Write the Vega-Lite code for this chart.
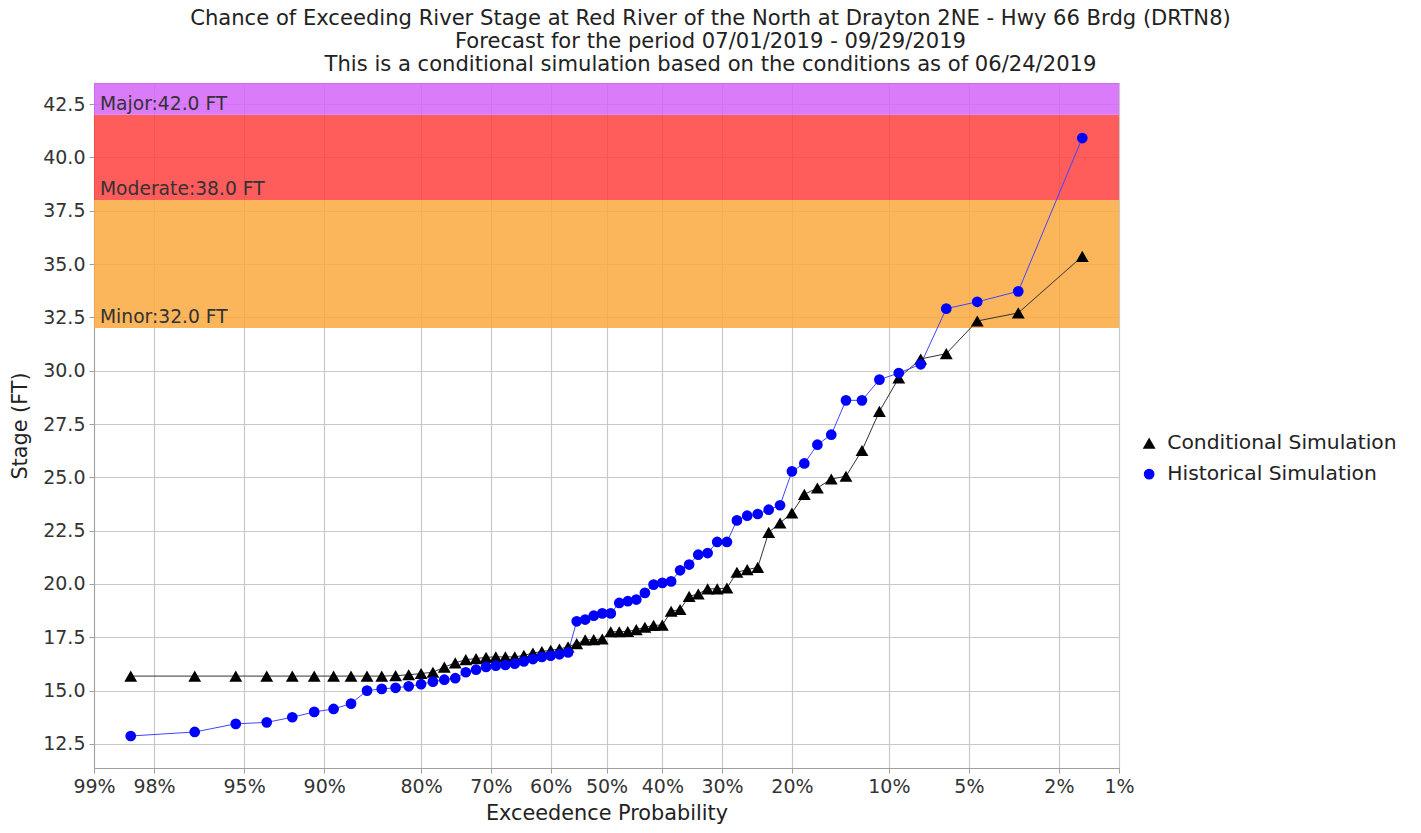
{
  "$schema": "https://vega.github.io/schema/vega-lite/v6.json",
  "autosize": "none",
  "width": 1025,
  "height": 685,
  "padding": {"left": 94, "top": 83, "right": 302, "bottom": 65},
  "background": "white",
  "config": {
    "font": "DejaVu Sans",
    "view": {"stroke": "#a0a0a0", "strokeWidth": 1},
    "axis": {
      "gridColor": "#c8c8c8",
      "gridWidth": 1.2,
      "domainColor": "#a0a0a0",
      "tickColor": "#a0a0a0",
      "tickSize": 5,
      "labelColor": "#333333",
      "labelFontSize": 19,
      "titleFontSize": 20.8,
      "titleFontWeight": "normal",
      "titleColor": "#222222"
    },
    "legend": {
      "orient": "none",
      "legendX": 1045,
      "legendY": 350,
      "labelFontSize": 20.3,
      "labelColor": "#222222",
      "labelOffset": 8,
      "labelLimit": 400,
      "rowPadding": 10,
      "padding": 0,
      "symbolStrokeWidth": 0
    }
  },
  "title": {
    "text": [
      "Chance of Exceeding River Stage at Red River of the North at Drayton 2NE - Hwy 66 Brdg (DRTN8)",
      "Forecast for the period 07/01/2019 - 09/29/2019",
      "This is a conditional simulation based on the conditions as of 06/24/2019"
    ],
    "fontSize": 21.1,
    "fontWeight": "normal",
    "color": "#222222",
    "anchor": "middle",
    "dx": 104,
    "offset": 8,
    "lineHeight": 23
  },
  "datasets": {
    "bands": [
      {"level": "Minor", "lo": 32, "hi": 38, "label": "Minor:32.0 FT", "left": 99, "right": 1},
      {"level": "Moderate", "lo": 38, "hi": 42, "label": "Moderate:38.0 FT", "left": 99, "right": 1},
      {"level": "Major", "lo": 42, "hi": 43.49, "label": "Major:42.0 FT", "left": 99, "right": 1}
    ],
    "sim": [
      {"exceed": 98.46, "series": "Conditional Simulation", "stage": 15.68},
      {"exceed": 96.92, "series": "Conditional Simulation", "stage": 15.68},
      {"exceed": 95.38, "series": "Conditional Simulation", "stage": 15.68},
      {"exceed": 93.85, "series": "Conditional Simulation", "stage": 15.68},
      {"exceed": 92.31, "series": "Conditional Simulation", "stage": 15.68},
      {"exceed": 90.77, "series": "Conditional Simulation", "stage": 15.68},
      {"exceed": 89.23, "series": "Conditional Simulation", "stage": 15.68},
      {"exceed": 87.69, "series": "Conditional Simulation", "stage": 15.68},
      {"exceed": 86.15, "series": "Conditional Simulation", "stage": 15.68},
      {"exceed": 84.62, "series": "Conditional Simulation", "stage": 15.68},
      {"exceed": 83.08, "series": "Conditional Simulation", "stage": 15.70},
      {"exceed": 81.54, "series": "Conditional Simulation", "stage": 15.74},
      {"exceed": 80.00, "series": "Conditional Simulation", "stage": 15.80},
      {"exceed": 78.46, "series": "Conditional Simulation", "stage": 15.86},
      {"exceed": 76.92, "series": "Conditional Simulation", "stage": 16.10},
      {"exceed": 75.38, "series": "Conditional Simulation", "stage": 16.30},
      {"exceed": 73.85, "series": "Conditional Simulation", "stage": 16.45},
      {"exceed": 72.31, "series": "Conditional Simulation", "stage": 16.50},
      {"exceed": 70.77, "series": "Conditional Simulation", "stage": 16.56},
      {"exceed": 69.23, "series": "Conditional Simulation", "stage": 16.58},
      {"exceed": 67.69, "series": "Conditional Simulation", "stage": 16.58},
      {"exceed": 66.15, "series": "Conditional Simulation", "stage": 16.58},
      {"exceed": 64.62, "series": "Conditional Simulation", "stage": 16.65},
      {"exceed": 63.08, "series": "Conditional Simulation", "stage": 16.76},
      {"exceed": 61.54, "series": "Conditional Simulation", "stage": 16.83},
      {"exceed": 60.00, "series": "Conditional Simulation", "stage": 16.89},
      {"exceed": 58.46, "series": "Conditional Simulation", "stage": 16.95},
      {"exceed": 56.92, "series": "Conditional Simulation", "stage": 17.05},
      {"exceed": 55.38, "series": "Conditional Simulation", "stage": 17.20},
      {"exceed": 53.85, "series": "Conditional Simulation", "stage": 17.38},
      {"exceed": 52.31, "series": "Conditional Simulation", "stage": 17.39},
      {"exceed": 50.77, "series": "Conditional Simulation", "stage": 17.42},
      {"exceed": 49.23, "series": "Conditional Simulation", "stage": 17.76},
      {"exceed": 47.69, "series": "Conditional Simulation", "stage": 17.76},
      {"exceed": 46.15, "series": "Conditional Simulation", "stage": 17.77},
      {"exceed": 44.62, "series": "Conditional Simulation", "stage": 17.86},
      {"exceed": 43.08, "series": "Conditional Simulation", "stage": 17.97},
      {"exceed": 41.54, "series": "Conditional Simulation", "stage": 18.06},
      {"exceed": 40.00, "series": "Conditional Simulation", "stage": 18.07},
      {"exceed": 38.46, "series": "Conditional Simulation", "stage": 18.72},
      {"exceed": 36.92, "series": "Conditional Simulation", "stage": 18.80},
      {"exceed": 35.38, "series": "Conditional Simulation", "stage": 19.42},
      {"exceed": 33.85, "series": "Conditional Simulation", "stage": 19.53},
      {"exceed": 32.31, "series": "Conditional Simulation", "stage": 19.77},
      {"exceed": 30.77, "series": "Conditional Simulation", "stage": 19.77},
      {"exceed": 29.23, "series": "Conditional Simulation", "stage": 19.81},
      {"exceed": 27.69, "series": "Conditional Simulation", "stage": 20.55},
      {"exceed": 26.15, "series": "Conditional Simulation", "stage": 20.67},
      {"exceed": 24.62, "series": "Conditional Simulation", "stage": 20.78},
      {"exceed": 23.08, "series": "Conditional Simulation", "stage": 22.42},
      {"exceed": 21.54, "series": "Conditional Simulation", "stage": 22.86},
      {"exceed": 20.00, "series": "Conditional Simulation", "stage": 23.33},
      {"exceed": 18.46, "series": "Conditional Simulation", "stage": 24.20},
      {"exceed": 16.92, "series": "Conditional Simulation", "stage": 24.50},
      {"exceed": 15.38, "series": "Conditional Simulation", "stage": 24.92},
      {"exceed": 13.85, "series": "Conditional Simulation", "stage": 25.05},
      {"exceed": 12.31, "series": "Conditional Simulation", "stage": 26.26},
      {"exceed": 10.77, "series": "Conditional Simulation", "stage": 28.09},
      {"exceed": 9.23, "series": "Conditional Simulation", "stage": 29.66},
      {"exceed": 7.69, "series": "Conditional Simulation", "stage": 30.55},
      {"exceed": 6.15, "series": "Conditional Simulation", "stage": 30.80},
      {"exceed": 4.62, "series": "Conditional Simulation", "stage": 32.33},
      {"exceed": 3.08, "series": "Conditional Simulation", "stage": 32.71},
      {"exceed": 1.54, "series": "Conditional Simulation", "stage": 35.36},
      {"exceed": 98.46, "series": "Historical Simulation", "stage": 12.87},
      {"exceed": 96.92, "series": "Historical Simulation", "stage": 13.06},
      {"exceed": 95.38, "series": "Historical Simulation", "stage": 13.44},
      {"exceed": 93.85, "series": "Historical Simulation", "stage": 13.51},
      {"exceed": 92.31, "series": "Historical Simulation", "stage": 13.75},
      {"exceed": 90.77, "series": "Historical Simulation", "stage": 14.00},
      {"exceed": 89.23, "series": "Historical Simulation", "stage": 14.14},
      {"exceed": 87.69, "series": "Historical Simulation", "stage": 14.39},
      {"exceed": 86.15, "series": "Historical Simulation", "stage": 15.00},
      {"exceed": 84.62, "series": "Historical Simulation", "stage": 15.08},
      {"exceed": 83.08, "series": "Historical Simulation", "stage": 15.13},
      {"exceed": 81.54, "series": "Historical Simulation", "stage": 15.20},
      {"exceed": 80.00, "series": "Historical Simulation", "stage": 15.30},
      {"exceed": 78.46, "series": "Historical Simulation", "stage": 15.42},
      {"exceed": 76.92, "series": "Historical Simulation", "stage": 15.51},
      {"exceed": 75.38, "series": "Historical Simulation", "stage": 15.58},
      {"exceed": 73.85, "series": "Historical Simulation", "stage": 15.86},
      {"exceed": 72.31, "series": "Historical Simulation", "stage": 15.98},
      {"exceed": 70.77, "series": "Historical Simulation", "stage": 16.11},
      {"exceed": 69.23, "series": "Historical Simulation", "stage": 16.17},
      {"exceed": 67.69, "series": "Historical Simulation", "stage": 16.20},
      {"exceed": 66.15, "series": "Historical Simulation", "stage": 16.26},
      {"exceed": 64.62, "series": "Historical Simulation", "stage": 16.37},
      {"exceed": 63.08, "series": "Historical Simulation", "stage": 16.48},
      {"exceed": 61.54, "series": "Historical Simulation", "stage": 16.58},
      {"exceed": 60.00, "series": "Historical Simulation", "stage": 16.64},
      {"exceed": 58.46, "series": "Historical Simulation", "stage": 16.70},
      {"exceed": 56.92, "series": "Historical Simulation", "stage": 16.79},
      {"exceed": 55.38, "series": "Historical Simulation", "stage": 18.25},
      {"exceed": 53.85, "series": "Historical Simulation", "stage": 18.33},
      {"exceed": 52.31, "series": "Historical Simulation", "stage": 18.51},
      {"exceed": 50.77, "series": "Historical Simulation", "stage": 18.62},
      {"exceed": 49.23, "series": "Historical Simulation", "stage": 18.62},
      {"exceed": 47.69, "series": "Historical Simulation", "stage": 19.11},
      {"exceed": 46.15, "series": "Historical Simulation", "stage": 19.19},
      {"exceed": 44.62, "series": "Historical Simulation", "stage": 19.27},
      {"exceed": 43.08, "series": "Historical Simulation", "stage": 19.58},
      {"exceed": 41.54, "series": "Historical Simulation", "stage": 19.97},
      {"exceed": 40.00, "series": "Historical Simulation", "stage": 20.05},
      {"exceed": 38.46, "series": "Historical Simulation", "stage": 20.12},
      {"exceed": 36.92, "series": "Historical Simulation", "stage": 20.64},
      {"exceed": 35.38, "series": "Historical Simulation", "stage": 20.91},
      {"exceed": 33.85, "series": "Historical Simulation", "stage": 21.37},
      {"exceed": 32.31, "series": "Historical Simulation", "stage": 21.45},
      {"exceed": 30.77, "series": "Historical Simulation", "stage": 21.97},
      {"exceed": 29.23, "series": "Historical Simulation", "stage": 21.97},
      {"exceed": 27.69, "series": "Historical Simulation", "stage": 22.98},
      {"exceed": 26.15, "series": "Historical Simulation", "stage": 23.20},
      {"exceed": 24.62, "series": "Historical Simulation", "stage": 23.28},
      {"exceed": 23.08, "series": "Historical Simulation", "stage": 23.48},
      {"exceed": 21.54, "series": "Historical Simulation", "stage": 23.69},
      {"exceed": 20.00, "series": "Historical Simulation", "stage": 25.28},
      {"exceed": 18.46, "series": "Historical Simulation", "stage": 25.65},
      {"exceed": 16.92, "series": "Historical Simulation", "stage": 26.53},
      {"exceed": 15.38, "series": "Historical Simulation", "stage": 27.00},
      {"exceed": 13.85, "series": "Historical Simulation", "stage": 28.61},
      {"exceed": 12.31, "series": "Historical Simulation", "stage": 28.61},
      {"exceed": 10.77, "series": "Historical Simulation", "stage": 29.58},
      {"exceed": 9.23, "series": "Historical Simulation", "stage": 29.89},
      {"exceed": 7.69, "series": "Historical Simulation", "stage": 30.30},
      {"exceed": 6.15, "series": "Historical Simulation", "stage": 32.91},
      {"exceed": 4.62, "series": "Historical Simulation", "stage": 33.23},
      {"exceed": 3.08, "series": "Historical Simulation", "stage": 33.72},
      {"exceed": 1.54, "series": "Historical Simulation", "stage": 40.91}
    ]
  },
  "layer": [
    {
      "data": {"name": "bands"},
      "transform": [
        {"calculate": "quantileNormal(1 - datum.left / 100)", "as": "zl"},
        {"calculate": "quantileNormal(1 - datum.right / 100)", "as": "zr"}
      ],
      "mark": {"type": "rect", "fillOpacity": 0.85, "strokeWidth": 0},
      "encoding": {
        "x": {
          "field": "zl", "type": "quantitative",
          "scale": {"domain": [-2.326348, 2.326348], "nice": false, "zero": false},
          "axis": {
            "title": "Exceedence Probability",
            "values": [-2.326348, -2.053749, -1.644854, -1.281552, -0.841621, -0.524401, -0.253347, 0, 0.253347, 0.524401, 0.841621, 1.281552, 1.644854, 2.053749, 2.326348],
            "labelExpr": "format(1 - cumulativeNormal(datum.value), '.0%')",
            "grid": true,
            "labelPadding": 4,
            "titlePadding": 7,
            "labelFlush": false,
            "labelOverlap": false
          }
        },
        "x2": {"field": "zr"},
        "y": {
          "field": "lo", "type": "quantitative",
          "scale": {"domain": [11.37, 43.49], "nice": false, "zero": false},
          "axis": {
            "title": "Stage (FT)",
            "values": [12.5, 15, 17.5, 20, 22.5, 25, 27.5, 30, 32.5, 35, 37.5, 40, 42.5],
            "format": ".1f",
            "grid": true,
            "labelPadding": 4,
            "titlePadding": 12
          }
        },
        "y2": {"field": "hi"},
        "fill": {
          "field": "level", "type": "nominal",
          "scale": {"domain": ["Minor", "Moderate", "Major"], "range": ["#faa940", "#ff3f3f", "#d364f9"]},
          "legend": null
        }
      }
    },
    {
      "data": {"name": "bands"},
      "transform": [
        {"calculate": "quantileNormal(1 - datum.left / 100)", "as": "zl"}
      ],
      "mark": {"type": "text", "align": "left", "baseline": "alphabetic", "dx": 6, "dy": -5, "fontSize": 18.7, "color": "#333333"},
      "encoding": {
        "x": {"field": "zl", "type": "quantitative"},
        "y": {"field": "lo", "type": "quantitative"},
        "text": {"field": "label"}
      }
    },
    {
      "data": {"name": "sim"},
      "transform": [
        {"calculate": "quantileNormal(1 - datum.exceed / 100)", "as": "z"}
      ],
      "mark": {"type": "line", "strokeWidth": 1},
      "encoding": {
        "x": {"field": "z", "type": "quantitative"},
        "y": {"field": "stage", "type": "quantitative"},
        "stroke": {
          "field": "series", "type": "nominal",
          "scale": {"domain": ["Conditional Simulation", "Historical Simulation"], "range": ["#333333", "#4444ff"]},
          "legend": {"title": null}
        }
      }
    },
    {
      "data": {"name": "sim"},
      "transform": [
        {"calculate": "quantileNormal(1 - datum.exceed / 100)", "as": "z"}
      ],
      "mark": {"type": "point", "filled": true, "opacity": 1},
      "encoding": {
        "x": {"field": "z", "type": "quantitative"},
        "y": {"field": "stage", "type": "quantitative"},
        "size": {
          "field": "series", "type": "nominal",
          "scale": {"domain": ["Conditional Simulation", "Historical Simulation"], "range": [165, 115]},
          "legend": {"title": null}
        },
        "color": {
          "field": "series", "type": "nominal",
          "scale": {"domain": ["Conditional Simulation", "Historical Simulation"], "range": ["#000000", "#0000ff"]},
          "legend": {"title": null}
        },
        "shape": {
          "field": "series", "type": "nominal",
          "scale": {"domain": ["Conditional Simulation", "Historical Simulation"], "range": ["triangle-up", "circle"]},
          "legend": {"title": null}
        }
      }
    }
  ]
}
